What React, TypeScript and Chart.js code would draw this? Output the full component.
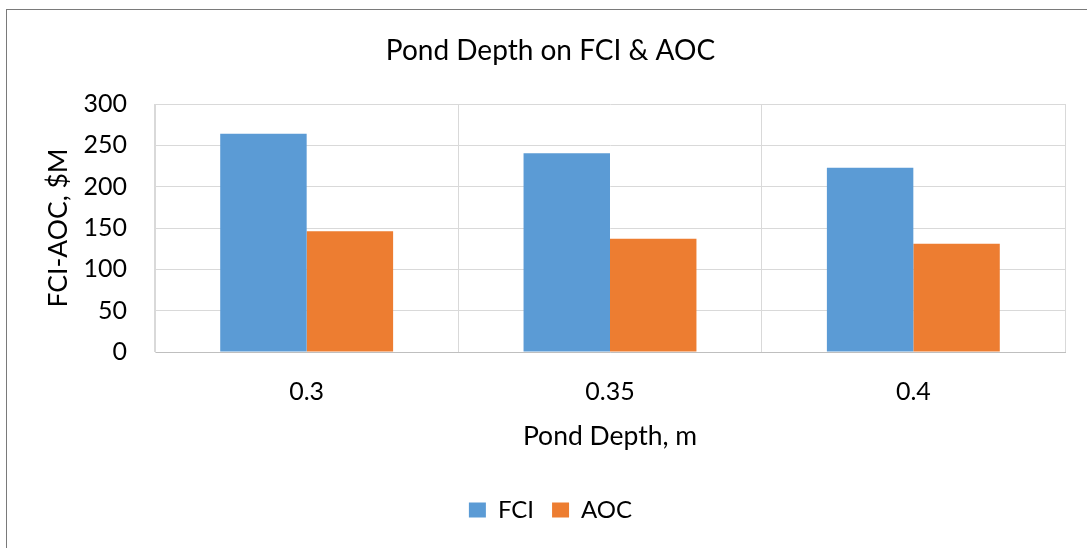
import React, { useEffect, useRef } from 'react';
import { Chart, registerables } from 'chart.js';

Chart.register(...registerables);

const categories = ['0.3', '0.35', '0.4'];
const fciValues = [264, 240.5, 223];
const aocValues = [146, 137, 131];
const yTickValues = [0, 50, 100, 150, 200, 250, 300];
const seriesNames = ['FCI', 'AOC'];
const chartTitle = 'Pond Depth on FCI & AOC';
const xAxisTitle = 'Pond Depth, m';
const yAxisTitle = 'FCI-AOC, $M';

const FONT = 'Lato';
const TEXT = '#000000';

export default function App() {
  const ref = useRef<HTMLCanvasElement>(null);

  useEffect(() => {
    if (!ref.current) return;
    const chart = new Chart(ref.current, {
      type: 'bar',
      data: {
        labels: categories,
        datasets: [
          {
            label: seriesNames[0],
            data: fciValues,
            backgroundColor: '#5B9BD5',
            categoryPercentage: 0.57,
            barPercentage: 1,
          },
          {
            label: seriesNames[1],
            data: aocValues,
            backgroundColor: '#ED7D31',
            categoryPercentage: 0.57,
            barPercentage: 1,
          },
        ],
      },
      options: {
        animation: false,
        responsive: false,
        devicePixelRatio: 1,
        layout: { padding: { left: 36, right: 22, top: 0, bottom: 16 } },
        plugins: {
          title: {
            display: true,
            text: chartTitle,
            color: TEXT,
            font: { family: FONT, size: 28, weight: 'normal' },
            padding: { top: 33.7, bottom: 36.7 },
          },
          legend: {
            position: 'bottom',
            labels: {
              boxWidth: 17,
              boxHeight: 15,
              padding: 18,
              color: TEXT,
              font: { family: FONT, size: 24 },
            },
          },
          tooltip: { enabled: false },
        },
        scales: {
          x: {
            grid: { color: '#D9D9D9', drawTicks: false, lineWidth: 1 },
            border: { color: '#BFBFBF', width: 1 },
            ticks: { padding: 25, color: TEXT, font: { family: FONT, size: 25 } },
            title: {
              display: true,
              text: xAxisTitle,
              color: TEXT,
              font: { family: FONT, size: 26.5 },
              padding: { top: 0, bottom: 27.7 },
            },
            afterFit: (s: any) => {
              s.height = 128;
            },
          },
          y: {
            min: 0,
            max: 300,
            afterBuildTicks: (s: any) => {
              s.ticks = yTickValues.map((v) => ({ value: v }));
            },
            grid: { color: '#D9D9D9', drawTicks: false, lineWidth: 1 },
            border: { color: '#D9D9D9', width: 1 },
            ticks: { padding: 28, color: TEXT, font: { family: FONT, size: 25 } },
            title: {
              display: true,
              text: yAxisTitle,
              color: TEXT,
              font: { family: FONT, size: 26.5 },
              padding: { top: 6.5, bottom: 0 },
            },
            afterFit: (s: any) => {
              s.width = 119;
            },
          },
        },
      },
    });
    return () => chart.destroy();
  }, []);

  return (
    <div
      style={{
        position: 'absolute',
        left: 0,
        top: 0,
        width: 1087,
        height: 548,
        overflow: 'hidden',
        background: '#fff',
      }}
    >
      <div
        style={{
          position: 'absolute',
          left: 6,
          top: 9,
          width: 1300,
          height: 800,
          border: '1px solid #7a7a7a',
        }}
      />
      <canvas
        ref={ref}
        width={1087}
        height={548}
        style={{ position: 'absolute', left: 0, top: 0, width: 1087, height: 548 }}
      />
    </div>
  );
}
